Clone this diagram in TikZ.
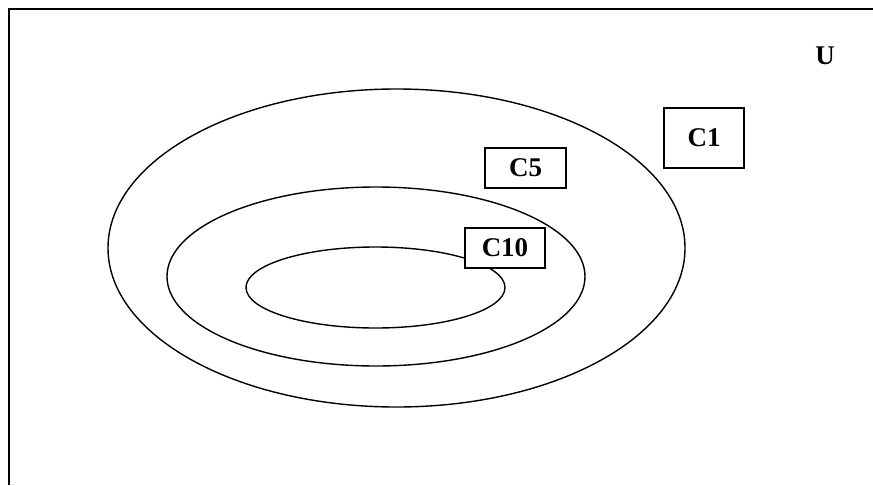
\documentclass[tikz,border=0pt]{standalone}
\usepackage{fontspec}
\setmainfont{Liberation Serif}
\begin{document}
\begin{tikzpicture}[x=1pt,y=-1pt,
  setline/.style={line width=1.4pt},
  labelbox/.style={draw,line width=1.4pt,fill=white,inner sep=0pt,font=\fontsize{27}{30}\selectfont\bfseries},
  ulabel/.style={inner sep=0pt,font=\fontsize{27}{30}\selectfont\bfseries}]
\useasboundingbox (0,0) rectangle (873,485);
\draw[line width=1.8pt] (9,485) -- (9,9) -- (873,9);
\draw[setline] (396.5,248) ellipse [x radius=288.5, y radius=159];
\draw[setline] (376,276.5) ellipse [x radius=209, y radius=89.5];
\draw[setline] (375.5,287.5) ellipse [x radius=129.5, y radius=40.5];
\node[labelbox,minimum width=80pt,minimum height=60pt] (c1) at (704,138) {C1};
\node[labelbox,minimum width=81pt,minimum height=40pt] (c5) at (525.5,168) {C5};
\node[labelbox,minimum width=80pt,minimum height=40pt] (c10) at (505,248) {C10};
\node[ulabel] (u) at (825,56) {U};
\end{tikzpicture}
\end{document}
